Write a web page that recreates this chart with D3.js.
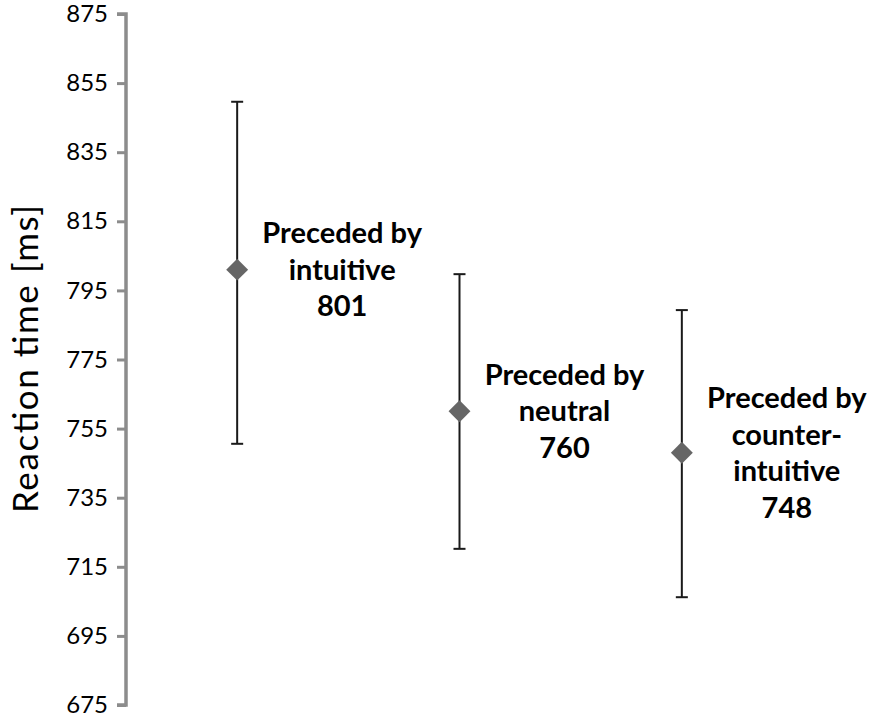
<!DOCTYPE html>
<html>
<head>
<meta charset="utf-8">
<script src="https://cdn.jsdelivr.net/npm/d3@7"></script>
<style>
  html, body { margin: 0; padding: 0; background: #fff; }
  svg { display: block; }
</style>
</head>
<body>
<svg id="chart" width="881" height="719"></svg>
<script>
// ---- data ----
const categories = ["intuitive", "neutral", "counter-intuitive"];
const labelLines = [
  ["Preceded by", "intuitive"],
  ["Preceded by", "neutral"],
  ["Preceded by", "counter-", "intuitive"]
];
const means = [801, 760, 748];
const errHigh = [849.6, 799.7, 789.3];
const errLow = [750.6, 720.2, 706.2];
const yTicks = [675, 695, 715, 735, 755, 775, 795, 815, 835, 855, 875];
const yLabel = "Reaction time [ms]";

// ---- layout ----
const svg = d3.select("#chart");
const axisX = 126, yTop = 14, yBottom = 705;
const x = d3.scaleBand().domain(categories).range([axisX, axisX + 667]).padding(0);
const y = d3.scaleLinear().domain([675, 875]).range([yBottom, yTop]);

// y axis
const yAxis = d3.axisLeft(y).tickValues(yTicks).tickSize(9).tickPadding(9).tickFormat(d3.format("d"));
const gA = svg.append("g").attr("transform", `translate(${axisX},0)`).call(yAxis);
gA.select(".domain").attr("stroke", "#8c8c8c").attr("stroke-width", 3.5)
  .attr("d", `M-9,${yTop}H0V${yBottom}H-9`);
gA.selectAll(".tick line").attr("stroke", "#8c8c8c").attr("stroke-width", 3);
gA.selectAll(".tick text").attr("fill", "#000")
  .style("font-family", "Lato, 'Open Sans', sans-serif").style("font-size", "24px");

// y label
svg.append("text")
  .attr("transform", `translate(38,${(205 + 513) / 2}) rotate(-90)`)
  .attr("text-anchor", "middle")
  .attr("textLength", 308)
  .attr("lengthAdjust", "spacing")
  .style("font-family", "Lato, 'Open Sans', sans-serif")
  .style("font-size", "35px")
  .attr("fill", "#000")
  .text(yLabel);

const data = categories.map((c, i) => ({ c, m: means[i], hi: errHigh[i], lo: errLow[i], lines: labelLines[i].concat([String(means[i])]) }));
const cx = d => x(d.c) + x.bandwidth() / 2;

// error bars
const eb = svg.append("g").attr("stroke", "#1a1a1a").attr("stroke-width", 2);
eb.selectAll("line.v").data(data).join("line")
  .attr("x1", cx).attr("x2", cx).attr("y1", d => y(d.hi)).attr("y2", d => y(d.lo));
eb.selectAll("line.t").data(data).join("line")
  .attr("x1", d => cx(d) - 6).attr("x2", d => cx(d) + 6).attr("y1", d => y(d.hi)).attr("y2", d => y(d.hi));
eb.selectAll("line.b").data(data).join("line")
  .attr("x1", d => cx(d) - 6).attr("x2", d => cx(d) + 6).attr("y1", d => y(d.lo)).attr("y2", d => y(d.lo));

// diamonds
const sym = d3.symbol().type(d3.symbolSquare).size(240);
svg.append("g").selectAll("path").data(data).join("path")
  .attr("d", sym)
  .attr("transform", d => `translate(${cx(d)},${y(d.m)}) rotate(45)`)
  .attr("fill", "#666666");

// data labels
const lh = 36.5;
const lab = svg.append("g")
  .style("font-family", "Lato, 'Open Sans', sans-serif")
  .style("font-weight", "bold")
  .style("font-size", "29px")
  .attr("fill", "#000")
  .attr("text-anchor", "middle");
data.forEach(d => {
  const n = d.lines.length;
  const t = lab.append("text");
  d.lines.forEach((s, j) => {
    t.append("tspan")
      .attr("x", cx(d) + 105)
      .attr("y", y(d.m) - (n - 1) / 2 * lh + 10 + j * lh)
      .text(s);
  });
});
</script>
</body>
</html>
